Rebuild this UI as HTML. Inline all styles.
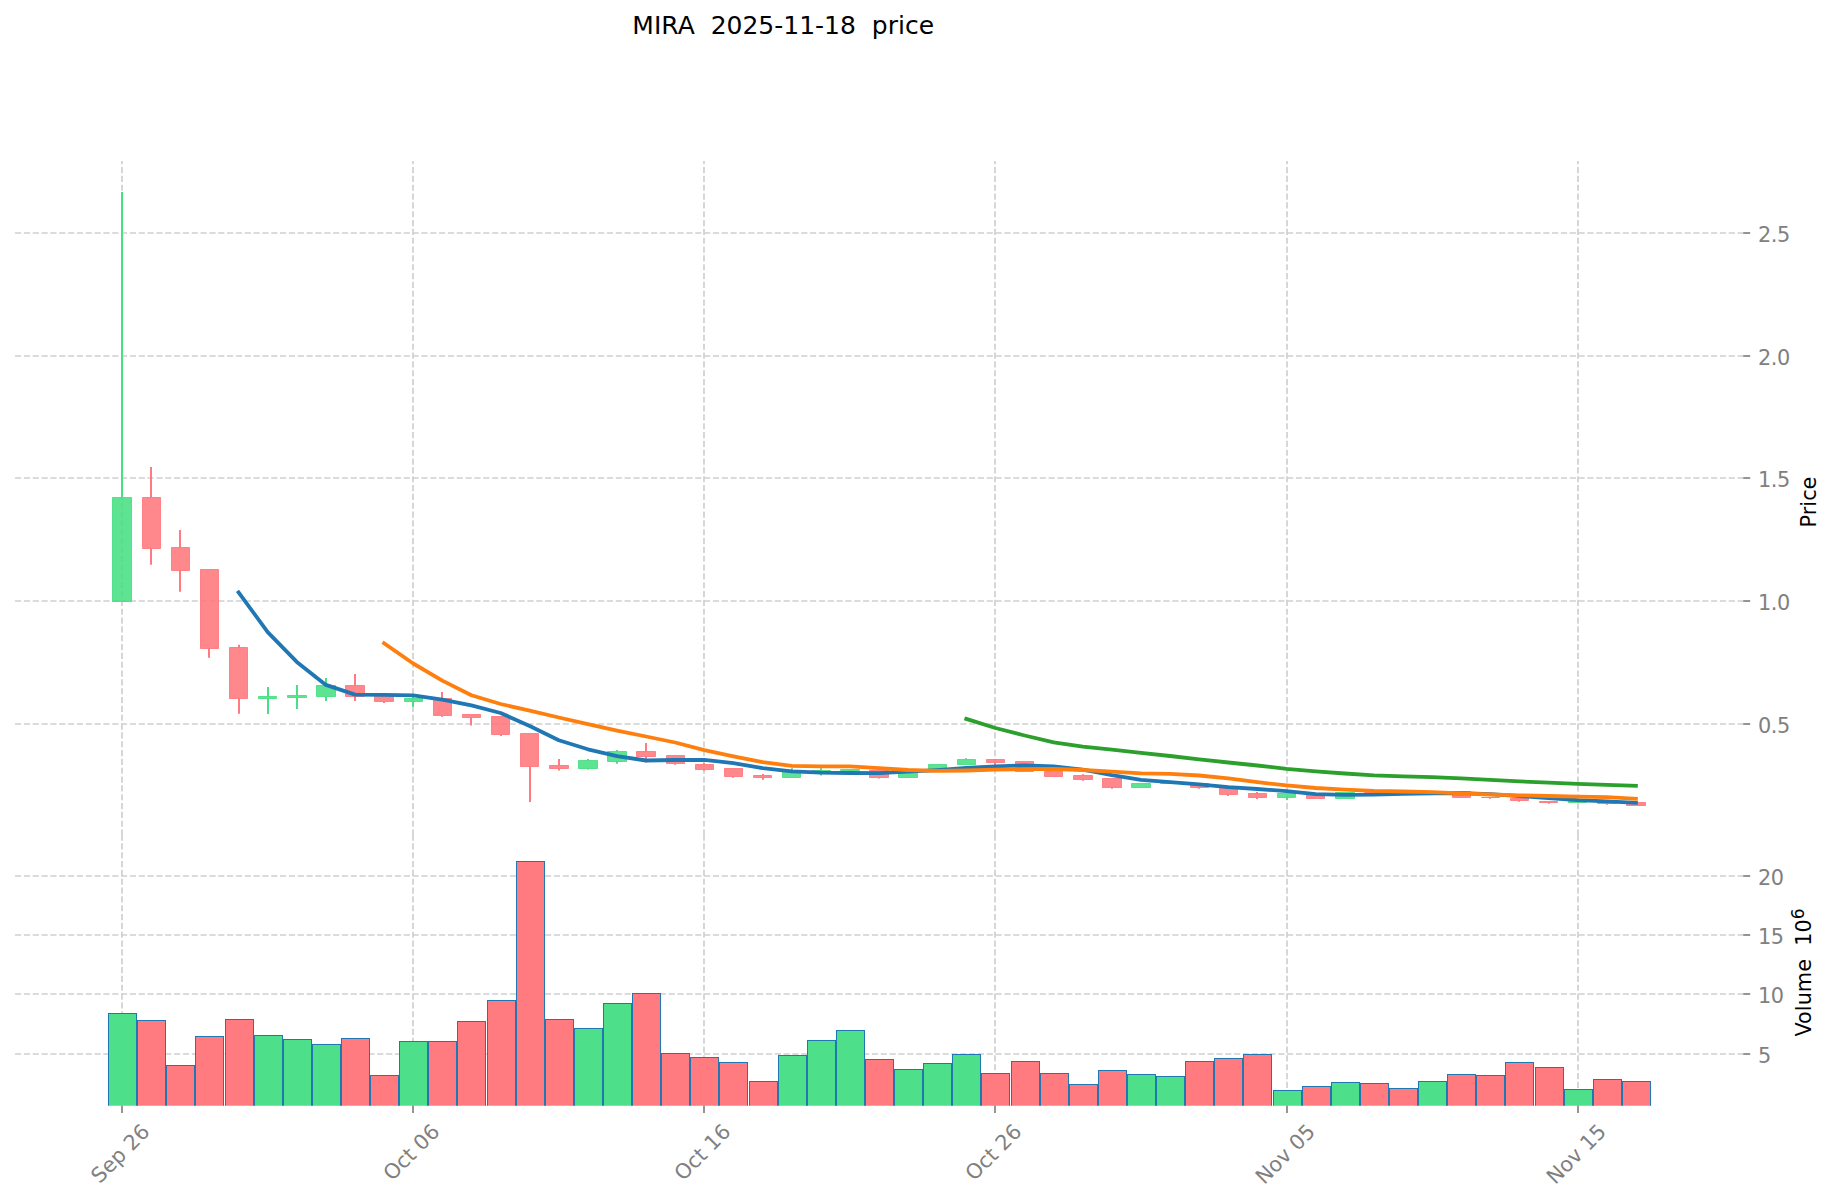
<!DOCTYPE html>
<html lang="en"><head><meta charset="utf-8"><title>MIRA 2025-11-18 price</title>
<style>html,body{margin:0;padding:0;background:#fff}svg{display:block}</style></head>
<body>
<svg width="1834" height="1202" viewBox="0 0 1834 1202" font-family="'DejaVu Sans', 'Liberation Sans', sans-serif">
<rect width="1834" height="1202" fill="#ffffff"/>
<g stroke="#cfcfcf" stroke-width="1.67" stroke-dasharray="6.1667 2.6667" fill="none">
<path d="M15.05 233H1743.2"/>
<path d="M15.05 356H1743.2"/>
<path d="M15.05 478H1743.2"/>
<path d="M15.05 601H1743.2"/>
<path d="M15.05 724H1743.2"/>
<path d="M15.05 876H1743.2"/>
<path d="M15.05 935H1743.2"/>
<path d="M15.05 994H1743.2"/>
<path d="M15.05 1054H1743.2"/>
<path d="M122 835.7V161.0"/>
<path d="M122 1105.7V835.7"/>
<path d="M413 835.7V161.0"/>
<path d="M413 1105.7V835.7"/>
<path d="M704 835.7V161.0"/>
<path d="M704 1105.7V835.7"/>
<path d="M995 835.7V161.0"/>
<path d="M995 1105.7V835.7"/>
<path d="M1287 835.7V161.0"/>
<path d="M1287 1105.7V835.7"/>
<path d="M1578 835.7V161.0"/>
<path d="M1578 1105.7V835.7"/>
</g>
<clipPath id="vc"><rect x="0" y="835.7" width="1834" height="270.0"/></clipPath>
<g clip-path="url(#vc)" stroke="#1f77b4" stroke-width="1">
<rect x="108.5" y="1013.5" width="28.0" height="97.2" fill="#4ddf8a"/>
<rect x="137.5" y="1020.5" width="28.0" height="90.2" fill="#ff7b80"/>
<rect x="166.5" y="1065.5" width="28.0" height="45.2" fill="#ff7b80"/>
<rect x="195.5" y="1036.5" width="28.0" height="74.2" fill="#ff7b80"/>
<rect x="225.5" y="1019.5" width="28.0" height="91.2" fill="#ff7b80"/>
<rect x="254.5" y="1035.5" width="28.0" height="75.2" fill="#4ddf8a"/>
<rect x="283.5" y="1039.5" width="28.0" height="71.2" fill="#4ddf8a"/>
<rect x="312.5" y="1044.5" width="28.0" height="66.2" fill="#4ddf8a"/>
<rect x="341.5" y="1038.5" width="28.0" height="72.2" fill="#ff7b80"/>
<rect x="370.5" y="1075.5" width="28.0" height="35.2" fill="#ff7b80"/>
<rect x="399.5" y="1041.5" width="28.0" height="69.2" fill="#4ddf8a"/>
<rect x="428.5" y="1041.5" width="28.0" height="69.2" fill="#ff7b80"/>
<rect x="457.5" y="1021.5" width="28.0" height="89.2" fill="#ff7b80"/>
<rect x="487.5" y="1000.5" width="28.0" height="110.2" fill="#ff7b80"/>
<rect x="516.5" y="861.5" width="28.0" height="249.2" fill="#ff7b80"/>
<rect x="545.5" y="1019.5" width="28.0" height="91.2" fill="#ff7b80"/>
<rect x="574.5" y="1028.5" width="28.0" height="82.2" fill="#4ddf8a"/>
<rect x="603.5" y="1003.5" width="28.0" height="107.2" fill="#4ddf8a"/>
<rect x="632.5" y="993.5" width="28.0" height="117.2" fill="#ff7b80"/>
<rect x="661.5" y="1053.5" width="28.0" height="57.2" fill="#ff7b80"/>
<rect x="690.5" y="1057.5" width="28.0" height="53.2" fill="#ff7b80"/>
<rect x="719.5" y="1062.5" width="28.0" height="48.2" fill="#ff7b80"/>
<rect x="749.5" y="1081.5" width="28.0" height="29.2" fill="#ff7b80"/>
<rect x="778.5" y="1055.5" width="28.0" height="55.2" fill="#4ddf8a"/>
<rect x="807.5" y="1040.5" width="28.0" height="70.2" fill="#4ddf8a"/>
<rect x="836.5" y="1030.5" width="28.0" height="80.2" fill="#4ddf8a"/>
<rect x="865.5" y="1059.5" width="28.0" height="51.2" fill="#ff7b80"/>
<rect x="894.5" y="1069.5" width="28.0" height="41.2" fill="#4ddf8a"/>
<rect x="923.5" y="1063.5" width="28.0" height="47.2" fill="#4ddf8a"/>
<rect x="952.5" y="1054.5" width="28.0" height="56.2" fill="#4ddf8a"/>
<rect x="981.5" y="1073.5" width="28.0" height="37.2" fill="#ff7b80"/>
<rect x="1011.5" y="1061.5" width="28.0" height="49.2" fill="#ff7b80"/>
<rect x="1040.5" y="1073.5" width="28.0" height="37.2" fill="#ff7b80"/>
<rect x="1069.5" y="1084.5" width="28.0" height="26.2" fill="#ff7b80"/>
<rect x="1098.5" y="1070.5" width="28.0" height="40.2" fill="#ff7b80"/>
<rect x="1127.5" y="1074.5" width="28.0" height="36.2" fill="#4ddf8a"/>
<rect x="1156.5" y="1076.5" width="28.0" height="34.2" fill="#4ddf8a"/>
<rect x="1185.5" y="1061.5" width="28.0" height="49.2" fill="#ff7b80"/>
<rect x="1214.5" y="1058.5" width="28.0" height="52.2" fill="#ff7b80"/>
<rect x="1243.5" y="1054.5" width="28.0" height="56.2" fill="#ff7b80"/>
<rect x="1273.5" y="1090.5" width="28.0" height="20.2" fill="#4ddf8a"/>
<rect x="1302.5" y="1086.5" width="28.0" height="24.2" fill="#ff7b80"/>
<rect x="1331.5" y="1082.5" width="28.0" height="28.2" fill="#4ddf8a"/>
<rect x="1360.5" y="1083.5" width="28.0" height="27.2" fill="#ff7b80"/>
<rect x="1389.5" y="1088.5" width="28.0" height="22.2" fill="#ff7b80"/>
<rect x="1418.5" y="1081.5" width="28.0" height="29.2" fill="#4ddf8a"/>
<rect x="1447.5" y="1074.5" width="28.0" height="36.2" fill="#ff7b80"/>
<rect x="1476.5" y="1075.5" width="28.0" height="35.2" fill="#ff7b80"/>
<rect x="1505.5" y="1062.5" width="28.0" height="48.2" fill="#ff7b80"/>
<rect x="1535.5" y="1067.5" width="28.0" height="43.2" fill="#ff7b80"/>
<rect x="1564.5" y="1089.5" width="28.0" height="21.2" fill="#4ddf8a"/>
<rect x="1593.5" y="1079.5" width="28.0" height="31.2" fill="#ff7b80"/>
<rect x="1622.5" y="1081.5" width="28.0" height="29.2" fill="#ff7b80"/>
</g>
<g stroke-linejoin="round">
<path d="M122 192.1V497.6" stroke="#4ade85" stroke-width="2.0"/>
<rect x="112.5" y="497.50" width="19.0" height="104.00" fill="#43de80" stroke="#43de80" stroke-width="1" fill-opacity="0.86" stroke-opacity="0.86"/>
<path d="M151 467.0V497.6" stroke="#ff7a81" stroke-width="2.0"/>
<path d="M151 548.2V564.7" stroke="#ff7a81" stroke-width="2.0"/>
<rect x="142.5" y="497.50" width="18.0" height="51.00" fill="#ff747a" stroke="#ff747a" stroke-width="1" fill-opacity="0.86" stroke-opacity="0.86"/>
<path d="M180 530.1V547.5" stroke="#ff7a81" stroke-width="2.0"/>
<path d="M180 570.3V591.8" stroke="#ff7a81" stroke-width="2.0"/>
<rect x="171.5" y="547.50" width="18.0" height="23.00" fill="#ff747a" stroke="#ff747a" stroke-width="1" fill-opacity="0.86" stroke-opacity="0.86"/>
<path d="M209 648.4V657.8" stroke="#ff7a81" stroke-width="2.0"/>
<rect x="200.5" y="569.50" width="18.0" height="79.00" fill="#ff747a" stroke="#ff747a" stroke-width="1" fill-opacity="0.86" stroke-opacity="0.86"/>
<path d="M239 644.8V647.7" stroke="#ff7a81" stroke-width="2.0"/>
<path d="M239 698.3V713.8" stroke="#ff7a81" stroke-width="2.0"/>
<rect x="229.5" y="647.50" width="18.0" height="51.00" fill="#ff747a" stroke="#ff747a" stroke-width="1" fill-opacity="0.86" stroke-opacity="0.86"/>
<path d="M268 686.9V696.6" stroke="#4ade85" stroke-width="2.0"/>
<path d="M268 698.5V714.1" stroke="#4ade85" stroke-width="2.0"/>
<rect x="258.5" y="696.50" width="18.0" height="2.00" fill="#43de80" stroke="#43de80" stroke-width="1" fill-opacity="0.86" stroke-opacity="0.86"/>
<path d="M297 684.9V695.6" stroke="#4ade85" stroke-width="2.0"/>
<path d="M297 697.4V709.0" stroke="#4ade85" stroke-width="2.0"/>
<rect x="287.5" y="695.50" width="19.0" height="2.00" fill="#43de80" stroke="#43de80" stroke-width="1" fill-opacity="0.86" stroke-opacity="0.86"/>
<path d="M326 677.9V685.4" stroke="#4ade85" stroke-width="2.0"/>
<path d="M326 696.4V701.0" stroke="#4ade85" stroke-width="2.0"/>
<rect x="316.5" y="685.50" width="19.0" height="11.00" fill="#43de80" stroke="#43de80" stroke-width="1" fill-opacity="0.86" stroke-opacity="0.86"/>
<path d="M355 674.0V685.4" stroke="#ff7a81" stroke-width="2.0"/>
<path d="M355 696.4V701.0" stroke="#ff7a81" stroke-width="2.0"/>
<rect x="345.5" y="685.50" width="19.0" height="11.00" fill="#ff747a" stroke="#ff747a" stroke-width="1" fill-opacity="0.86" stroke-opacity="0.86"/>
<path d="M384 696.0V696.8" stroke="#ff7a81" stroke-width="2.0"/>
<path d="M384 701.7V703.0" stroke="#ff7a81" stroke-width="2.0"/>
<rect x="374.5" y="696.50" width="19.0" height="5.00" fill="#ff747a" stroke="#ff747a" stroke-width="1" fill-opacity="0.86" stroke-opacity="0.86"/>
<path d="M413 696.0V698.7" stroke="#4ade85" stroke-width="2.0"/>
<path d="M413 701.2V706.8" stroke="#4ade85" stroke-width="2.0"/>
<rect x="404.5" y="698.50" width="18.0" height="3.00" fill="#43de80" stroke="#43de80" stroke-width="1" fill-opacity="0.86" stroke-opacity="0.86"/>
<path d="M442 691.9V698.7" stroke="#ff7a81" stroke-width="2.0"/>
<path d="M442 715.2V716.7" stroke="#ff7a81" stroke-width="2.0"/>
<rect x="433.5" y="698.50" width="18.0" height="17.00" fill="#ff747a" stroke="#ff747a" stroke-width="1" fill-opacity="0.86" stroke-opacity="0.86"/>
<path d="M471 717.3V725.6" stroke="#ff7a81" stroke-width="2.0"/>
<rect x="462.5" y="714.50" width="18.0" height="3.00" fill="#ff747a" stroke="#ff747a" stroke-width="1" fill-opacity="0.86" stroke-opacity="0.86"/>
<path d="M501 734.5V736.0" stroke="#ff7a81" stroke-width="2.0"/>
<rect x="491.5" y="716.50" width="18.0" height="18.00" fill="#ff747a" stroke="#ff747a" stroke-width="1" fill-opacity="0.86" stroke-opacity="0.86"/>
<path d="M530 766.3V801.9" stroke="#ff7a81" stroke-width="2.0"/>
<rect x="520.5" y="733.50" width="18.0" height="33.00" fill="#ff747a" stroke="#ff747a" stroke-width="1" fill-opacity="0.86" stroke-opacity="0.86"/>
<path d="M559 759.1V765.5" stroke="#ff7a81" stroke-width="2.0"/>
<path d="M559 768.4V770.6" stroke="#ff7a81" stroke-width="2.0"/>
<rect x="549.5" y="765.50" width="19.0" height="3.00" fill="#ff747a" stroke="#ff747a" stroke-width="1" fill-opacity="0.86" stroke-opacity="0.86"/>
<path d="M588 759.1V760.5" stroke="#4ade85" stroke-width="2.0"/>
<path d="M588 768.4V769.6" stroke="#4ade85" stroke-width="2.0"/>
<rect x="578.5" y="760.50" width="19.0" height="8.00" fill="#43de80" stroke="#43de80" stroke-width="1" fill-opacity="0.86" stroke-opacity="0.86"/>
<path d="M617 750.0V751.6" stroke="#4ade85" stroke-width="2.0"/>
<path d="M617 761.3V763.8" stroke="#4ade85" stroke-width="2.0"/>
<rect x="607.5" y="751.50" width="19.0" height="10.00" fill="#43de80" stroke="#43de80" stroke-width="1" fill-opacity="0.86" stroke-opacity="0.86"/>
<path d="M646 743.1V751.6" stroke="#ff7a81" stroke-width="2.0"/>
<path d="M646 756.4V762.6" stroke="#ff7a81" stroke-width="2.0"/>
<rect x="636.5" y="751.50" width="19.0" height="5.00" fill="#ff747a" stroke="#ff747a" stroke-width="1" fill-opacity="0.86" stroke-opacity="0.86"/>
<path d="M675 763.3V764.8" stroke="#ff7a81" stroke-width="2.0"/>
<rect x="666.5" y="755.50" width="18.0" height="8.00" fill="#ff747a" stroke="#ff747a" stroke-width="1" fill-opacity="0.86" stroke-opacity="0.86"/>
<path d="M704 763.0V763.9" stroke="#ff7a81" stroke-width="2.0"/>
<path d="M704 769.4V770.8" stroke="#ff7a81" stroke-width="2.0"/>
<rect x="695.5" y="764.50" width="18.0" height="5.00" fill="#ff747a" stroke="#ff747a" stroke-width="1" fill-opacity="0.86" stroke-opacity="0.86"/>
<path d="M733 776.4V777.7" stroke="#ff7a81" stroke-width="2.0"/>
<rect x="724.5" y="768.50" width="18.0" height="8.00" fill="#ff747a" stroke="#ff747a" stroke-width="1" fill-opacity="0.86" stroke-opacity="0.86"/>
<path d="M763 774.0V775.5" stroke="#ff7a81" stroke-width="2.0"/>
<path d="M763 777.4V779.8" stroke="#ff7a81" stroke-width="2.0"/>
<rect x="753.5" y="775.50" width="18.0" height="2.00" fill="#ff747a" stroke="#ff747a" stroke-width="1" fill-opacity="0.86" stroke-opacity="0.86"/>
<path d="M792 768.2V770.8" stroke="#4ade85" stroke-width="2.0"/>
<rect x="782.5" y="770.50" width="18.0" height="7.00" fill="#43de80" stroke="#43de80" stroke-width="1" fill-opacity="0.86" stroke-opacity="0.86"/>
<path d="M821 768.2V770.4" stroke="#4ade85" stroke-width="2.0"/>
<path d="M821 771.5V775.6" stroke="#4ade85" stroke-width="2.0"/>
<rect x="811.5" y="770.50" width="19.0" height="1.00" fill="#43de80" stroke="#43de80" stroke-width="1" fill-opacity="0.86" stroke-opacity="0.86"/>
<path d="M850 770.7V771.5" stroke="#4ade85" stroke-width="2.0"/>
<rect x="840.5" y="769.50" width="19.0" height="1.00" fill="#43de80" stroke="#43de80" stroke-width="1" fill-opacity="0.86" stroke-opacity="0.86"/>
<path d="M879 777.3V778.6" stroke="#ff7a81" stroke-width="2.0"/>
<rect x="869.5" y="770.50" width="19.0" height="7.00" fill="#ff747a" stroke="#ff747a" stroke-width="1" fill-opacity="0.86" stroke-opacity="0.86"/>
<rect x="898.5" y="771.50" width="19.0" height="6.00" fill="#43de80" stroke="#43de80" stroke-width="1" fill-opacity="0.86" stroke-opacity="0.86"/>
<rect x="928.5" y="764.50" width="18.0" height="6.00" fill="#43de80" stroke="#43de80" stroke-width="1" fill-opacity="0.86" stroke-opacity="0.86"/>
<path d="M966 758.2V759.4" stroke="#4ade85" stroke-width="2.0"/>
<rect x="957.5" y="759.50" width="18.0" height="5.00" fill="#43de80" stroke="#43de80" stroke-width="1" fill-opacity="0.86" stroke-opacity="0.86"/>
<path d="M995 762.2V765.4" stroke="#ff7a81" stroke-width="2.0"/>
<rect x="986.5" y="759.50" width="18.0" height="3.00" fill="#ff747a" stroke="#ff747a" stroke-width="1" fill-opacity="0.86" stroke-opacity="0.86"/>
<rect x="1015.5" y="761.50" width="18.0" height="10.00" fill="#ff747a" stroke="#ff747a" stroke-width="1" fill-opacity="0.86" stroke-opacity="0.86"/>
<rect x="1044.5" y="771.50" width="18.0" height="5.00" fill="#ff747a" stroke="#ff747a" stroke-width="1" fill-opacity="0.86" stroke-opacity="0.86"/>
<path d="M1083 774.2V775.5" stroke="#ff7a81" stroke-width="2.0"/>
<path d="M1083 779.3V780.7" stroke="#ff7a81" stroke-width="2.0"/>
<rect x="1073.5" y="775.50" width="19.0" height="4.00" fill="#ff747a" stroke="#ff747a" stroke-width="1" fill-opacity="0.86" stroke-opacity="0.86"/>
<path d="M1112 787.2V788.7" stroke="#ff7a81" stroke-width="2.0"/>
<rect x="1102.5" y="778.50" width="19.0" height="9.00" fill="#ff747a" stroke="#ff747a" stroke-width="1" fill-opacity="0.86" stroke-opacity="0.86"/>
<rect x="1131.5" y="783.50" width="19.0" height="4.00" fill="#43de80" stroke="#43de80" stroke-width="1" fill-opacity="0.86" stroke-opacity="0.86"/>
<rect x="1160.5" y="782.50" width="19.0" height="1.00" fill="#43de80" stroke="#43de80" stroke-width="1" fill-opacity="0.86" stroke-opacity="0.86"/>
<path d="M1199 787.4V788.7" stroke="#ff7a81" stroke-width="2.0"/>
<rect x="1190.5" y="783.50" width="18.0" height="4.00" fill="#ff747a" stroke="#ff747a" stroke-width="1" fill-opacity="0.86" stroke-opacity="0.86"/>
<path d="M1228 794.5V795.9" stroke="#ff7a81" stroke-width="2.0"/>
<rect x="1219.5" y="787.50" width="18.0" height="7.00" fill="#ff747a" stroke="#ff747a" stroke-width="1" fill-opacity="0.86" stroke-opacity="0.86"/>
<path d="M1257 792.0V793.6" stroke="#ff7a81" stroke-width="2.0"/>
<path d="M1257 797.6V798.9" stroke="#ff7a81" stroke-width="2.0"/>
<rect x="1248.5" y="793.50" width="18.0" height="4.00" fill="#ff747a" stroke="#ff747a" stroke-width="1" fill-opacity="0.86" stroke-opacity="0.86"/>
<path d="M1287 797.6V800.1" stroke="#4ade85" stroke-width="2.0"/>
<rect x="1277.5" y="793.50" width="18.0" height="4.00" fill="#43de80" stroke="#43de80" stroke-width="1" fill-opacity="0.86" stroke-opacity="0.86"/>
<rect x="1306.5" y="793.50" width="18.0" height="5.00" fill="#ff747a" stroke="#ff747a" stroke-width="1" fill-opacity="0.86" stroke-opacity="0.86"/>
<rect x="1335.5" y="792.50" width="19.0" height="6.00" fill="#43de80" stroke="#43de80" stroke-width="1" fill-opacity="0.86" stroke-opacity="0.86"/>
<rect x="1364.5" y="792.50" width="19.0" height="0.01" fill="#ff747a" stroke="#ff747a" stroke-width="1" fill-opacity="0.86" stroke-opacity="0.86"/>
<rect x="1393.5" y="792.50" width="19.0" height="0.01" fill="#ff747a" stroke="#ff747a" stroke-width="1" fill-opacity="0.86" stroke-opacity="0.86"/>
<rect x="1422.5" y="791.50" width="19.0" height="1.00" fill="#43de80" stroke="#43de80" stroke-width="1" fill-opacity="0.86" stroke-opacity="0.86"/>
<rect x="1452.5" y="791.50" width="18.0" height="6.00" fill="#ff747a" stroke="#ff747a" stroke-width="1" fill-opacity="0.86" stroke-opacity="0.86"/>
<path d="M1490 797.5V798.8" stroke="#ff7a81" stroke-width="2.0"/>
<rect x="1481.5" y="797.50" width="18.0" height="0.01" fill="#ff747a" stroke="#ff747a" stroke-width="1" fill-opacity="0.86" stroke-opacity="0.86"/>
<path d="M1519 800.5V801.8" stroke="#ff7a81" stroke-width="2.0"/>
<rect x="1510.5" y="798.50" width="18.0" height="2.00" fill="#ff747a" stroke="#ff747a" stroke-width="1" fill-opacity="0.86" stroke-opacity="0.86"/>
<path d="M1549 802.4V803.8" stroke="#ff7a81" stroke-width="2.0"/>
<rect x="1539.5" y="801.50" width="18.0" height="1.00" fill="#ff747a" stroke="#ff747a" stroke-width="1" fill-opacity="0.86" stroke-opacity="0.86"/>
<rect x="1568.5" y="801.50" width="18.0" height="1.00" fill="#43de80" stroke="#43de80" stroke-width="1" fill-opacity="0.86" stroke-opacity="0.86"/>
<path d="M1607 803.4V804.7" stroke="#ff7a81" stroke-width="2.0"/>
<rect x="1597.5" y="801.50" width="19.0" height="2.00" fill="#ff747a" stroke="#ff747a" stroke-width="1" fill-opacity="0.86" stroke-opacity="0.86"/>
<rect x="1626.5" y="802.50" width="19.0" height="3.00" fill="#ff747a" stroke="#ff747a" stroke-width="1" fill-opacity="0.86" stroke-opacity="0.86"/>
</g>
<polyline points="238.6,592.3 267.7,632.1 296.8,661.9 325.9,684.9 355.0,694.6 384.1,694.9 413.2,695.3 442.3,699.6 471.4,705.4 500.6,713.0 529.7,726.0 558.8,740.2 587.9,749.3 617.0,756.1 646.1,760.5 675.2,760.0 704.3,759.8 733.4,763.1 762.6,768.2 791.7,771.4 820.8,772.7 849.9,773.0 879.0,773.1 908.1,771.7 937.2,770.1 966.3,768.0 995.4,766.4 1024.6,765.5 1053.7,766.4 1082.8,769.6 1111.9,775.1 1141.0,779.8 1170.1,782.2 1199.2,784.3 1228.3,787.2 1257.4,789.0 1286.5,791.2 1315.7,794.1 1344.8,794.9 1373.9,794.7 1403.0,793.8 1432.1,793.3 1461.2,793.1 1490.3,794.2 1519.4,796.1 1548.5,798.0 1577.7,800.1 1606.8,801.4 1635.9,802.7" fill="none" stroke="#1f77b4" stroke-width="3.8" stroke-linecap="square" stroke-linejoin="round"/>
<polyline points="384.1,643.2 413.2,663.5 442.3,680.6 471.4,695.3 500.6,704.0 529.7,710.6 558.8,717.5 587.9,724.1 617.0,730.6 646.1,736.5 675.2,742.5 704.3,750.2 733.4,756.3 762.6,762.2 791.7,765.9 820.8,766.3 849.9,766.4 879.0,768.2 908.1,770.0 937.2,770.9 966.3,770.5 995.4,769.7 1024.6,769.1 1053.7,769.0 1082.8,770.0 1111.9,771.7 1141.0,773.3 1170.1,773.8 1199.2,775.5 1228.3,778.4 1257.4,782.2 1286.5,785.4 1315.7,788.0 1344.8,789.6 1373.9,790.9 1403.0,791.5 1432.1,792.2 1461.2,793.4 1490.3,794.5 1519.4,795.3 1548.5,796.0 1577.7,796.6 1606.8,797.2 1635.9,798.7" fill="none" stroke="#ff7f0e" stroke-width="3.8" stroke-linecap="square" stroke-linejoin="round"/>
<polyline points="966.3,718.9 995.4,728.0 1024.6,735.5 1053.7,742.4 1082.8,746.7 1111.9,749.7 1141.0,752.9 1170.1,756.0 1199.2,759.3 1228.3,762.5 1257.4,765.5 1286.5,768.8 1315.7,771.3 1344.8,773.5 1373.9,775.4 1403.0,776.4 1432.1,777.2 1461.2,778.4 1490.3,779.9 1519.4,781.4 1548.5,782.7 1577.7,783.9 1606.8,784.8 1635.9,785.9" fill="none" stroke="#2ca02c" stroke-width="3.8" stroke-linecap="square" stroke-linejoin="round"/>
<g stroke="#808080" stroke-width="1.67">
<path d="M1743.2 233h7"/>
<path d="M1743.2 356h7"/>
<path d="M1743.2 478h7"/>
<path d="M1743.2 601h7"/>
<path d="M1743.2 724h7"/>
<path d="M1743.2 876h7"/>
<path d="M1743.2 935h7"/>
<path d="M1743.2 994h7"/>
<path d="M1743.2 1054h7"/>
<path d="M122 1105.7v7.3"/>
<path d="M413 1105.7v7.3"/>
<path d="M704 1105.7v7.3"/>
<path d="M995 1105.7v7.3"/>
<path d="M1287 1105.7v7.3"/>
<path d="M1578 1105.7v7.3"/>
</g>
<g font-size="20.83" fill="#808080">
<text x="1758.0" y="241.75" letter-spacing="-0.4">2.5</text>
<text x="1758.0" y="364.55" letter-spacing="-0.4">2.0</text>
<text x="1758.0" y="487.30" letter-spacing="-0.4">1.5</text>
<text x="1758.0" y="610.05" letter-spacing="-0.4">1.0</text>
<text x="1758.0" y="732.85" letter-spacing="-0.4">0.5</text>
<text x="1758.0" y="884.75" letter-spacing="-0.4">20</text>
<text x="1758.0" y="944.05" letter-spacing="-0.4">15</text>
<text x="1758.0" y="1003.25" letter-spacing="-0.4">10</text>
<text x="1758.0" y="1062.85" letter-spacing="-0.4">5</text>
<text transform="translate(120.0 1153.19) rotate(-45)" text-anchor="middle" y="7.6">Sep 26</text>
<text transform="translate(411.0 1152.04) rotate(-45)" text-anchor="middle" y="7.6">Oct 06</text>
<text transform="translate(702.0 1152.04) rotate(-45)" text-anchor="middle" y="7.6">Oct 16</text>
<text transform="translate(993.0 1152.04) rotate(-45)" text-anchor="middle" y="7.6">Oct 26</text>
<text transform="translate(1285.0 1153.68) rotate(-45)" text-anchor="middle" y="7.6">Nov 05</text>
<text transform="translate(1576.0 1153.68) rotate(-45)" text-anchor="middle" y="7.6">Nov 15</text>
</g>
<g font-size="20.83" fill="#000000">
<text transform="translate(1816.2 502) rotate(-90)" text-anchor="middle">Price</text>
<text transform="translate(1810.9 972.5) rotate(-90)" text-anchor="middle" style="white-space:pre">Volume  10<tspan font-size="17" dy="-6.7">6</tspan></text>
</g>
<text x="783.2" y="33.8" font-size="25" fill="#000000" text-anchor="middle" style="white-space:pre">MIRA  2025-11-18  price</text>
</svg>
</body></html>
